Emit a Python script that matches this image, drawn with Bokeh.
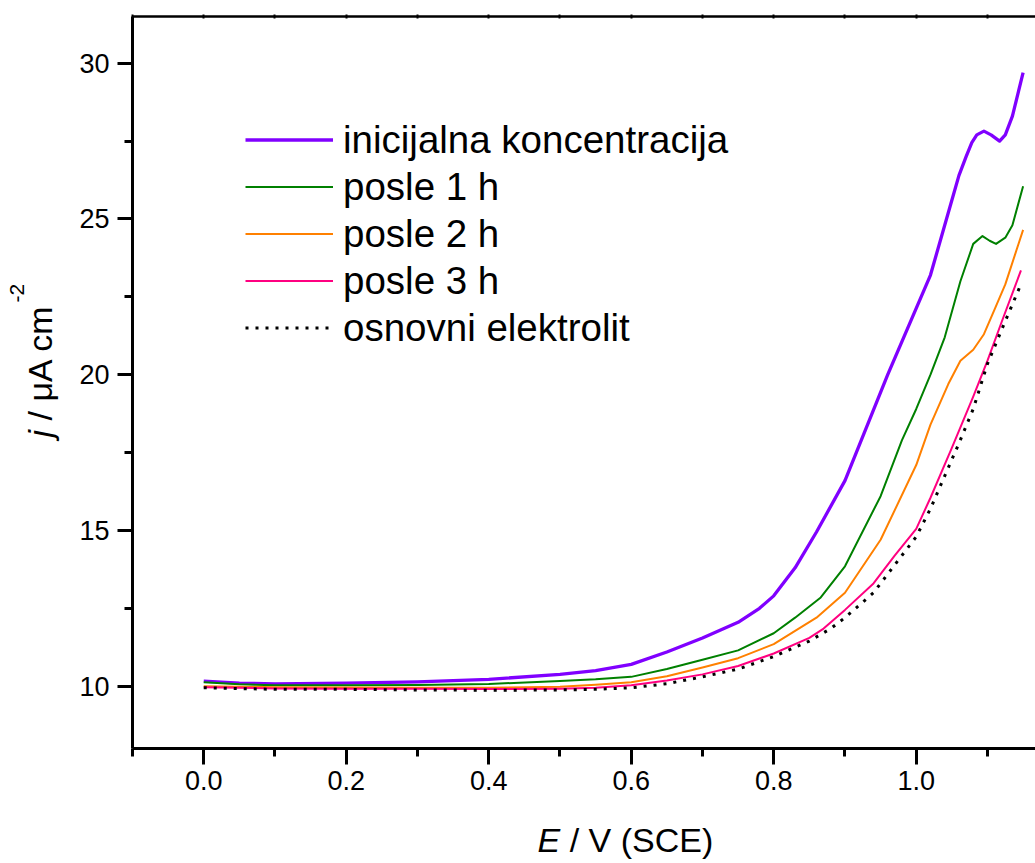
import math
from bokeh.plotting import figure
from bokeh.layouts import gridplot
from bokeh.models import (SingleIntervalTicker, LinearAxis, Legend, LegendItem,
                          Label, Range1d, NumeralTickFormatter)
from bokeh.embed import file_html
from bokeh.resources import INLINE

# ---------------- data ----------------
E_init = [0.0, 0.05, 0.1, 0.2, 0.3, 0.4, 0.5, 0.55, 0.6, 0.65, 0.7, 0.75, 0.78, 0.8,
          0.83, 0.86, 0.9, 0.93, 0.96, 0.99, 1.02, 1.05, 1.06, 1.07, 1.078, 1.085, 1.095,
          1.105, 1.117, 1.125, 1.135, 1.15]
j_init = [10.16, 10.1, 10.07, 10.1, 10.14, 10.22, 10.38, 10.5, 10.7, 11.1, 11.55, 12.05,
          12.5, 12.9, 13.8, 14.95, 16.6, 18.3, 20.0, 21.6, 23.2, 25.6, 26.4, 27.0, 27.45,
          27.7, 27.82, 27.7, 27.5, 27.7, 28.3, 29.7]

E_1h = [0.0, 0.05, 0.1, 0.2, 0.3, 0.4, 0.5, 0.55, 0.6, 0.65, 0.7, 0.75, 0.8, 0.83, 0.866,
        0.9, 0.95, 0.98, 1.0, 1.02, 1.04, 1.062, 1.08, 1.093, 1.103, 1.112, 1.125, 1.135,
        1.15]
j_1h = [10.13, 10.06, 10.03, 10.03, 10.04, 10.07, 10.17, 10.22, 10.3, 10.55, 10.85, 11.15,
        11.7, 12.2, 12.85, 13.85, 16.1, 17.9, 18.9, 20.0, 21.2, 23.0, 24.2, 24.45, 24.3,
        24.2, 24.4, 24.8, 26.05]

E_2h = [0.0, 0.1, 0.2, 0.3, 0.4, 0.5, 0.55, 0.6, 0.65, 0.7, 0.75, 0.8, 0.86, 0.9, 0.95,
        1.0, 1.02, 1.045, 1.062, 1.08, 1.095, 1.11, 1.125, 1.15]
j_2h = [10.0, 9.97, 9.96, 9.95, 9.95, 9.98, 10.05, 10.13, 10.32, 10.6, 10.9, 11.35, 12.2,
        13.0, 14.7, 17.1, 18.4, 19.7, 20.45, 20.8, 21.3, 22.1, 22.9, 24.65]

E_3h = [0.0, 0.1, 0.2, 0.3, 0.4, 0.5, 0.55, 0.6, 0.65, 0.7, 0.75, 0.8, 0.85, 0.87, 0.9,
        0.94, 0.97, 1.0, 1.02, 1.05, 1.08, 1.1, 1.12, 1.147]
j_3h = [9.97, 9.93, 9.92, 9.92, 9.91, 9.92, 9.95, 10.03, 10.18, 10.38, 10.65, 11.05, 11.55,
        11.85, 12.45, 13.3, 14.2, 15.05, 16.05, 17.65, 19.3, 20.45, 21.7, 23.35]

E_base = [0.0, 0.1, 0.2, 0.3, 0.4, 0.5, 0.55, 0.6, 0.65, 0.7, 0.75, 0.8, 0.85, 0.88, 0.9,
          0.94, 0.97, 1.0, 1.02, 1.04, 1.06, 1.08, 1.1, 1.12, 1.145]
j_base = [9.95, 9.9, 9.9, 9.88, 9.87, 9.88, 9.9, 9.95, 10.08, 10.3, 10.55, 10.95, 11.45,
          11.85, 12.2, 13.0, 13.9, 14.8, 15.7, 16.75, 17.8, 18.9, 20.35, 21.45, 22.8]

labels = ["inicijalna koncentracija", "posle 1 h", "posle 2 h", "posle 3 h",
          "osnovni elektrolit"]

FONT = "Liberation Sans"

# ---------------- main plot ----------------
p = figure(width=965, height=808, output_backend="svg", toolbar_location=None,
           x_range=Range1d(-0.1, 1.1674), y_range=Range1d(8.0, 31.5),
           min_border_left=62, min_border_right=0, min_border_top=16,
           min_border_bottom=60)
p.xgrid.grid_line_color = None
p.ygrid.grid_line_color = None
p.outline_line_color = None
p.background_fill_color = "white"
p.border_fill_color = "white"

for ax in (p.xaxis[0], p.yaxis[0]):
    ax.axis_line_width = 3
    ax.major_tick_line_width = 3
    ax.minor_tick_line_width = 3
    ax.major_tick_in = 0
    ax.minor_tick_in = 0
    ax.major_label_text_font = FONT
    ax.major_label_text_font_size = "27px"
    ax.major_label_text_color = "black"
    ax.axis_line_color = "black"
    ax.major_tick_line_color = "black"
    ax.minor_tick_line_color = "black"

p.xaxis.ticker = SingleIntervalTicker(interval=0.2, num_minor_ticks=2)
p.xaxis.formatter = NumeralTickFormatter(format="0.0")
p.xaxis.major_tick_out = 16
p.xaxis.minor_tick_out = 8
p.xaxis.major_label_standoff = 6

p.yaxis.ticker = SingleIntervalTicker(interval=5, num_minor_ticks=2)
p.yaxis.formatter = NumeralTickFormatter(format="0")
p.yaxis.major_tick_out = 15
p.yaxis.minor_tick_out = 8
p.yaxis.major_label_standoff = 8

top = LinearAxis(ticker=SingleIntervalTicker(interval=0.1, num_minor_ticks=0),
                 axis_line_width=2.5, major_tick_in=2, major_tick_out=2,
                 major_tick_line_width=2, major_label_text_color=None,
                 major_label_text_font_size="1px", major_label_standoff=0)
p.add_layout(top, "above")

r_init = p.line(E_init, j_init, line_color="#8000FF", line_width=3.3, line_join="round")
r_1h = p.line(E_1h, j_1h, line_color="#008000", line_width=2, line_join="round")
r_2h = p.line(E_2h, j_2h, line_color="#FF8000", line_width=2, line_join="round")
r_3h = p.line(E_3h, j_3h, line_color="#FF0080", line_width=2, line_join="round")
r_base = p.line(E_base, j_base, line_color="black", line_width=3, line_dash="3 7")

legend = Legend(items=[LegendItem(label=l, renderers=[r]) for l, r in
                       zip(labels, [r_init, r_1h, r_2h, r_3h, r_base])],
                location=(113, 397), glyph_width=88, glyph_height=47,
                label_height=47, spacing=0, padding=0, margin=0,
                label_standoff=10, label_text_font=FONT, label_text_color="black",
                label_text_font_size="38.5px", label_text_baseline="middle",
                border_line_color=None, background_fill_alpha=0)
p.add_layout(legend, "center")

# ---------------- axis titles (mixed italic) in side figures ----------------
W = {" ": 0.278, "/": 0.278, "j": 0.222, "E": 0.667, "V": 0.667, "(": 0.333,
     "S": 0.667, "C": 0.722, ")": 0.333, "μ": 0.576, "A": 0.667, "c": 0.5, "m": 0.833}
def tw(s, fs):
    return sum(W.get(ch, 0.55) for ch in s) * fs

def blank(w, h, left=0, right=0, top_=0, bottom=0):
    f = figure(width=w, height=h, output_backend="svg", toolbar_location=None,
               x_axis_type=None, y_axis_type=None, min_border_left=left,
               min_border_right=right, min_border_top=top_, min_border_bottom=bottom,
               x_range=Range1d(0, 1), y_range=Range1d(0, 1))
    f.grid.visible = False
    f.outline_line_color = None
    f.background_fill_color = "white"
    f.border_fill_color = "white"
    return f

FS = 34
SHIFT = 0.41  # observed offset of the rendered text below the anchor (in em)

# x title: frame of xfig spans page x 132..1035, y 808..863
xfig = blank(965, 55, left=62, right=0, top_=0, bottom=0)
x0, y0 = 405, 10 + SHIFT * FS
xfig.add_layout(Label(x=x0, y=y0, x_units="screen", y_units="screen", text="E",
                      text_font=FONT, text_font_style="italic", text_font_size=f"{FS}px",
                      text_align="left", text_baseline="alphabetic", text_color="black"))
xfig.add_layout(Label(x=x0 + tw("E ", FS), y=y0, x_units="screen", y_units="screen",
                      text="/ V (SCE)", text_font=FONT, text_font_size=f"{FS}px",
                      text_align="left", text_baseline="alphabetic", text_color="black"))

# y title: frame of yfig spans page x 0..70, y 16..748
yfig = blank(70, 808, left=0, right=0, top_=16, bottom=60)
yx, yy = 53 - SHIFT * FS, 311
ang = math.pi / 2
yfig.add_layout(Label(x=yx, y=yy, x_units="screen", y_units="screen", text="j", angle=ang,
                      text_font=FONT, text_font_style="italic", text_font_size=f"{FS}px",
                      text_align="left", text_baseline="alphabetic", text_color="black"))
yfig.add_layout(Label(x=yx, y=yy + tw("j ", FS), x_units="screen", y_units="screen",
                      text="/ μA cm", angle=ang, text_font=FONT, text_font_size=f"{FS}px",
                      text_align="left", text_baseline="alphabetic", text_color="black"))
SFS = 21
yfig.add_layout(Label(x=25 - SHIFT * SFS, y=yy + tw("j / μA cm", FS) + 2, x_units="screen",
                      y_units="screen", text="-2", angle=ang, text_font=FONT,
                      text_font_size=f"{SFS}px", text_align="left",
                      text_baseline="alphabetic", text_color="black"))

grid = gridplot([[yfig, p], [None, xfig]], toolbar_location=None)
open("out.html", "w").write(file_html(grid, INLINE))
